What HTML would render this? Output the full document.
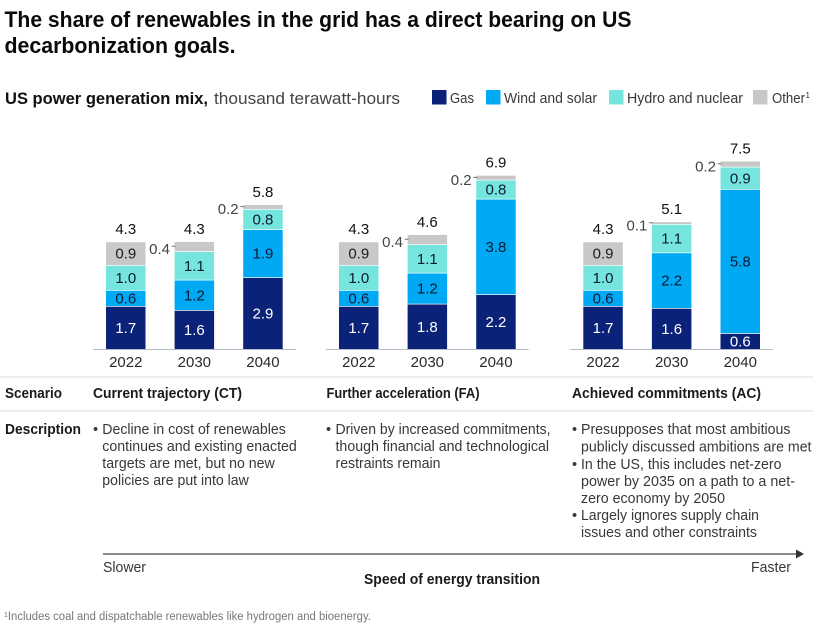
<!DOCTYPE html>
<html lang="en">
<head>
<meta charset="utf-8">
<title>US power generation mix</title>
<style>
html,body{margin:0;padding:0;background:#fff;width:823px;height:627px;overflow:hidden}
svg{display:block}
text{font-family:"Liberation Sans",sans-serif;fill:#262626}
.title{font-size:22px;font-weight:bold;fill:#0a0a0a}
.med{font-size:14.5px;font-weight:bold;fill:#1a1a1a}
.sub{font-size:16.5px;font-weight:bold;fill:#111}
.body{font-size:14.5px;fill:#383838}
.leg{font-size:14.5px;fill:#383838}
.val{font-size:15px;text-anchor:middle}
.year{font-size:15px;text-anchor:middle;fill:#2a2a2a}
</style>
</head>
<body>
<svg id="chart" width="823" height="627" viewBox="0 0 823 627" xmlns="http://www.w3.org/2000/svg">
  <g>
    <text class="title" x="4.5" y="27" textLength="627" lengthAdjust="spacingAndGlyphs">The share of renewables in the grid has a direct bearing on US</text>
    <text class="title" x="4.5" y="53" textLength="231" lengthAdjust="spacingAndGlyphs">decarbonization goals.</text>
  </g>
  <g>
    <text class="sub" x="5" y="104" textLength="203" lengthAdjust="spacingAndGlyphs">US power generation mix,</text>
    <text x="214" y="104" style="font-size:17px;fill:#444" textLength="186" lengthAdjust="spacingAndGlyphs">thousand terawatt-hours</text>
  </g>
  <g>
    <g><rect x="432" y="90" width="14.5" height="14.5" fill="#0a2278"/><text class="leg" x="450" y="103" textLength="24" lengthAdjust="spacingAndGlyphs">Gas</text></g>
    <g><rect x="486" y="90" width="14.5" height="14.5" fill="#00a9f4"/><text class="leg" x="504" y="103" textLength="93" lengthAdjust="spacingAndGlyphs">Wind and solar</text></g>
    <g><rect x="609" y="90" width="14.5" height="14.5" fill="#76e5de"/><text class="leg" x="627" y="103" textLength="116" lengthAdjust="spacingAndGlyphs">Hydro and nuclear</text></g>
    <g><rect x="753" y="90" width="14.5" height="14.5" fill="#c8c8c8"/><text class="leg" x="772" y="103" textLength="33" lengthAdjust="spacingAndGlyphs">Other</text><text x="805.5" y="98" style="font-size:8px;fill:#333">1</text></g>
  </g>
  <g id="plots"></g>
  <g>
    <line x1="0" x2="813" y1="377" y2="377" stroke="#dcdcdc" stroke-width="1"/>
    <line x1="0" x2="813" y1="411" y2="411" stroke="#dcdcdc" stroke-width="1"/>
    <text class="med" x="5" y="398" textLength="57" lengthAdjust="spacingAndGlyphs">Scenario</text>
    <text class="med" x="93" y="398" textLength="149" lengthAdjust="spacingAndGlyphs">Current trajectory (CT)</text>
    <text class="med" x="326.5" y="398" textLength="153" lengthAdjust="spacingAndGlyphs">Further acceleration (FA)</text>
    <text class="med" x="572" y="398" textLength="189" lengthAdjust="spacingAndGlyphs">Achieved commitments (AC)</text>
    <text class="med" x="5" y="434" textLength="76" lengthAdjust="spacingAndGlyphs">Description</text>
    <g>
      <text class="body" x="93" y="434">•</text>
      <text class="body" x="102.3" y="434" textLength="183.5" lengthAdjust="spacingAndGlyphs">Decline in cost of renewables</text>
      <text class="body" x="102.3" y="451" textLength="194.5" lengthAdjust="spacingAndGlyphs">continues and existing enacted</text>
      <text class="body" x="102.3" y="468" textLength="172.5" lengthAdjust="spacingAndGlyphs">targets are met, but no new</text>
      <text class="body" x="102.3" y="485" textLength="146.5" lengthAdjust="spacingAndGlyphs">policies are put into law</text>
    </g>
    <g>
      <text class="body" x="326" y="434">•</text>
      <text class="body" x="335.5" y="434" textLength="215" lengthAdjust="spacingAndGlyphs">Driven by increased commitments,</text>
      <text class="body" x="335.5" y="451" textLength="213.5" lengthAdjust="spacingAndGlyphs">though financial and technological</text>
      <text class="body" x="335.5" y="468" textLength="105" lengthAdjust="spacingAndGlyphs">restraints remain</text>
    </g>
    <g>
      <text class="body" x="572" y="434">•</text>
      <text class="body" x="581" y="434" textLength="209.5" lengthAdjust="spacingAndGlyphs">Presupposes that most ambitious</text>
      <text class="body" x="581" y="451.5" textLength="230.5" lengthAdjust="spacingAndGlyphs">publicly discussed ambitions are met</text>
      <text class="body" x="572" y="469">•</text>
      <text class="body" x="581" y="469" textLength="200.5" lengthAdjust="spacingAndGlyphs">In the US, this includes net-zero</text>
      <text class="body" x="581" y="486" textLength="214" lengthAdjust="spacingAndGlyphs">power by 2035 on a path to a net-</text>
      <text class="body" x="581" y="503" textLength="144" lengthAdjust="spacingAndGlyphs">zero economy by 2050</text>
      <text class="body" x="572" y="520">•</text>
      <text class="body" x="581" y="520" textLength="178" lengthAdjust="spacingAndGlyphs">Largely ignores supply chain</text>
      <text class="body" x="581" y="537" textLength="176" lengthAdjust="spacingAndGlyphs">issues and other constraints</text>
    </g>
  </g>
  <g>
    <line x1="103" x2="797" y1="554" y2="554" stroke="#666" stroke-width="1.5"/>
    <polygon points="796,549.5 804,554 796,558.5" fill="#333"/>
    <text class="body" x="103" y="572" textLength="43" lengthAdjust="spacingAndGlyphs">Slower</text>
    <text class="body" x="751" y="572" textLength="40" lengthAdjust="spacingAndGlyphs">Faster</text>
    <text class="med" x="364" y="584" textLength="176" lengthAdjust="spacingAndGlyphs">Speed of energy transition</text>
  </g>
  <text x="4" y="620" style="font-size:11.5px;fill:#777"><tspan dy="-3" style="font-size:7px">1</tspan><tspan dy="3" textLength="363" lengthAdjust="spacingAndGlyphs">Includes coal and dispatchable renewables like hydrogen and bioenergy.</tspan></text>
</svg>
<script>
// Categories
const scenarios = ["CT", "FA", "AC"];
const years = ["2022", "2030", "2040"];
// Series values, thousand TWh: scenario order CT, FA, AC; year order 2022, 2030, 2040
const gas = [1.72, 1.56, 2.87, 1.72, 1.81, 2.19, 1.72, 1.64, 0.63];
const windSolar = [0.64, 1.21, 1.92, 0.64, 1.24, 3.82, 0.64, 2.22, 5.77];
const hydroNuclear = [1.00, 1.14, 0.81, 1.00, 1.14, 0.76, 1.00, 1.14, 0.89];
const other = [0.94, 0.40, 0.19, 0.94, 0.40, 0.19, 0.94, 0.10, 0.24];
// Printed totals above each bar
const totals = ["4.3", "4.3", "5.8", "4.3", "4.6", "6.9", "4.3", "5.1", "7.5"];

const svgNS = "http://www.w3.org/2000/svg";
const plots = document.getElementById("plots");
const baseY = 349;
const barW = 39.5;
const yScale = v => v * 25;
const panelLeft = p => p === 0 ? 106 : p === 1 ? 339 : 583.3;
const barLeft = (p, y) => panelLeft(p) + y * 68.6;

function make(tag, attrs, name, parent, content) {
  const el = document.createElementNS(svgNS, tag);
  for (const k in attrs) el.setAttribute(k, attrs[k]);
  
  
  if (content !== undefined) el.textContent = content;
  parent.appendChild(el);
  return el;
}

const layers = [
  { key: "gas", values: gas, fill: "#0a2278", ink: "#ffffff" },
  { key: "wind-solar", values: windSolar, fill: "#00a9f4", ink: "#0b1a33" },
  { key: "hydro-nuclear", values: hydroNuclear, fill: "#76e5de", ink: "#0b1a33" },
  { key: "other", values: other, fill: "#c8c8c8", ink: "#1c1c1c" }
];

scenarios.forEach((sc, p) => {
  const panel = make("g", {}, "panel-" + sc.toLowerCase(), plots);
  const axisL = panelLeft(p) - 13;
  const axisR = barLeft(p, years.length - 1) + barW + 13;
  years.forEach((yr, y) => {
    const idx = p * years.length + y;
    const x = barLeft(p, y);
    const bar = make("g", {}, "bar-" + sc.toLowerCase() + "-" + yr, panel);
    let acc = 0;
    layers.forEach(layer => {
      const v = layer.values[idx];
      const y1 = baseY - yScale(acc + v);
      const h = yScale(v);
      make("rect", { x: x, y: y1 + 0.7, width: barW, height: Math.max(h - 0.7, 0.6), fill: layer.fill },
        "segment-" + layer.key, bar);
      const mid = y1 + h / 2;
      if (layer.key === "other" && v < 0.5) {
        make("line", { x1: x - 3, x2: x + 1, y1: mid, y2: mid, stroke: "#777", "stroke-width": 1 }, "leader-other", bar);
        make("text", { x: x - 15, y: mid + 7.5, class: "val", style: "fill:#444" }, "value-other", bar, v.toFixed(1));
      } else {
        make("text", { x: x + barW / 2, y: mid + 5.4, class: "val", style: "fill:" + layer.ink }, "value-" + layer.key, bar, v.toFixed(1));
      }
      acc += v;
    });
    make("text", { x: x + barW / 2, y: baseY - yScale(acc) - 7.5, class: "val", style: "fill:#111" }, "bar-total", bar, totals[idx]);
    make("text", { x: x + barW / 2, y: 367, class: "year" }, "year-label", panel, yr);
  });
  make("line", { x1: axisL, x2: axisR, y1: baseY + 0.5, y2: baseY + 0.5, stroke: "#b4bccb", "stroke-width": 1 }, "x-axis-line", panel);
});
</script>
</body>
</html>
